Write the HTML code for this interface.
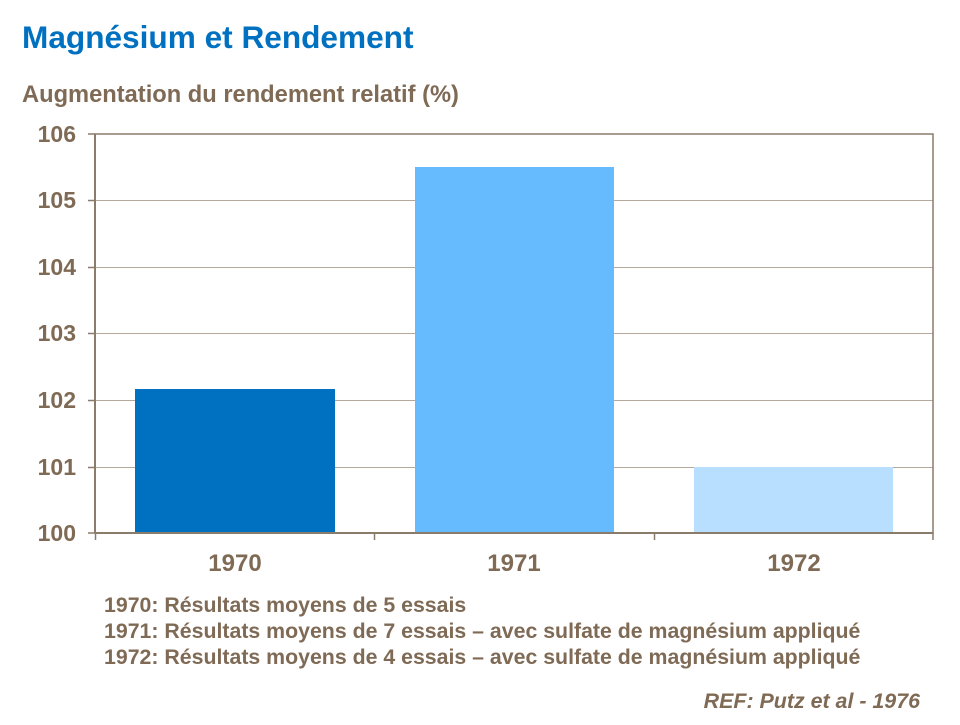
<!DOCTYPE html>
<html><head><meta charset="utf-8"><style>
body{margin:0;background:#fff;width:960px;height:720px;overflow:hidden;font-family:"Liberation Sans",Arial,sans-serif;}
</style></head><body>
<svg width="960" height="720" xmlns="http://www.w3.org/2000/svg" font-family="Liberation Sans, Arial, sans-serif" font-weight="bold">
<text x="22" y="48" font-size="31.6" fill="#0070C0">Magnésium et Rendement</text>
<text x="22" y="102" font-size="23.7" fill="#7F6A55">Augmentation du rendement relatif (%)</text>
<g stroke="#B3A99D" stroke-width="1">
<line x1="95" y1="200.5" x2="933" y2="200.5"/>
<line x1="95" y1="267.5" x2="933" y2="267.5"/>
<line x1="95" y1="333.5" x2="933" y2="333.5"/>
<line x1="95" y1="400.5" x2="933" y2="400.5"/>
<line x1="95" y1="467.5" x2="933" y2="467.5"/>
</g>
<rect x="135" y="389" width="200" height="144" fill="#0070C0"/>
<rect x="415" y="167" width="199" height="366" fill="#66BBFF"/>
<rect x="694" y="467" width="199" height="66" fill="#B8DFFF"/>
<g stroke="#8B7B6B" stroke-width="2" fill="none">
<rect x="95" y="134" width="838" height="399" stroke-width="1.5"/>
<line x1="95" y1="533" x2="933" y2="533"/>
<line x1="95" y1="134" x2="95" y2="533"/>
</g>
<g stroke="#8B7B6B" stroke-width="1.5">
<line x1="88" y1="134" x2="95" y2="134"/>
<line x1="88" y1="200.5" x2="95" y2="200.5"/>
<line x1="88" y1="267.5" x2="95" y2="267.5"/>
<line x1="88" y1="333.5" x2="95" y2="333.5"/>
<line x1="88" y1="400.5" x2="95" y2="400.5"/>
<line x1="88" y1="467.5" x2="95" y2="467.5"/>
<line x1="88" y1="533" x2="95" y2="533"/>
<line x1="95.5" y1="533" x2="95.5" y2="540"/>
<line x1="374.5" y1="533" x2="374.5" y2="540"/>
<line x1="654.5" y1="533" x2="654.5" y2="540"/>
<line x1="933" y1="533" x2="933" y2="540"/>
</g>
<g font-size="23" fill="#7F6A55" text-anchor="end">
<text x="76" y="142">106</text>
<text x="76" y="208">105</text>
<text x="76" y="275">104</text>
<text x="76" y="341">103</text>
<text x="76" y="408">102</text>
<text x="76" y="475">101</text>
<text x="76" y="541">100</text>
</g>
<g font-size="24" fill="#7F6A55" text-anchor="middle">
<text x="235" y="571">1970</text>
<text x="514" y="571">1971</text>
<text x="794" y="571">1972</text>
</g>
<g font-size="21.3" fill="#7F6A55">
<text x="104" y="612">1970: Résultats moyens de 5 essais</text>
<text x="104" y="638">1971: Résultats moyens de 7 essais – avec sulfate de magnésium appliqué</text>
<text x="104" y="664">1972: Résultats moyens de 4 essais – avec sulfate de magnésium appliqué</text>
</g>
<text x="920" y="708" font-size="21.4" font-style="italic" fill="#7F6A55" text-anchor="end">REF: Putz et al - 1976</text>
</svg>
</body></html>
